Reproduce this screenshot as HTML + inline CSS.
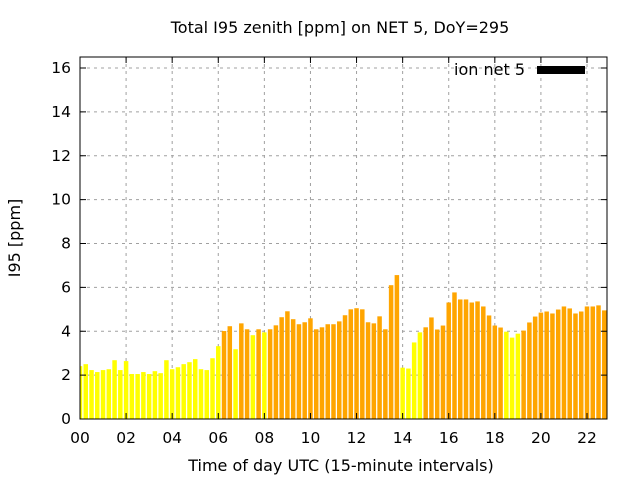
<!DOCTYPE html>
<html><head><meta charset="utf-8"><style>
body{margin:0;background:#fff;}
svg text{font-family:"DejaVu Sans","Liberation Sans",sans-serif;}
</style></head><body>
<svg id="chart" width="640" height="480" xmlns="http://www.w3.org/2000/svg">
<rect width="640" height="480" fill="#fff"/>
<text x="340" y="33" text-anchor="middle" font-size="16">Total I95 zenith [ppm] on NET 5, DoY=295</text>
<g id="grid"></g><g id="bars"></g><g id="axes"></g>
<text x="341" y="471" text-anchor="middle" font-size="16">Time of day UTC (15-minute intervals)</text>
<text transform="translate(20,238) rotate(-90)" text-anchor="middle" font-size="16">I95 [ppm]</text>
<g>
<text x="525" y="75" text-anchor="end" font-size="16">ion net 5</text>
<rect x="537" y="66" width="48" height="8" fill="#000"/>
</g>
</svg>
<script>
const values=[2.41,2.5,2.23,2.14,2.23,2.27,2.68,2.23,2.64,2.05,2.05,2.14,2.05,2.18,2.09,2.68,2.27,2.36,2.5,2.59,2.73,2.27,2.23,2.77,3.32,4.01,4.23,3.18,4.36,4.09,3.82,
4.09,3.95,4.09,4.27,4.64,4.91,4.55,4.32,4.41,4.59,4.09,4.18,4.32,4.32,4.45,4.73,5.0,5.05,5.0,4.41,4.36,4.68,4.09,6.1,6.56,2.34,2.3,3.49,3.95,4.18,
4.63,4.08,4.26,5.31,5.77,5.45,5.45,5.31,5.36,5.13,4.72,4.26,4.17,3.98,3.71,3.89,4.03,4.4,4.67,4.85,4.9,4.81,4.99,5.13,5.04,4.81,4.9,5.13,5.13,5.18,4.95];
const yTicks=[0,2,4,6,8,10,12,14,16];
const xTicks=["00","02","04","06","08","10","12","14","16","18","20","22"];
const threshold=4;
const NS="http://www.w3.org/2000/svg";
const L=80,R=607,T=57,B=419;
const xh=h=>L+h*(587-L)/22;
const y=v=>B-v*(B-68)/16;
function mk(tag,attrs,parent){const e=document.createElementNS(NS,tag);for(const k in attrs)e.setAttribute(k,attrs[k]);parent.appendChild(e);return e;}
const grid=document.getElementById('grid'),bars=document.getElementById('bars'),axes=document.getElementById('axes');
yTicks.forEach(v=>{
 if(v>0){const g=mk('line',{x1:L,x2:R,y1:y(v),y2:y(v),stroke:'#a0a0a0','stroke-dasharray':'3,4'},grid);
 
 }
 const t=mk('text',{x:L-9,y:y(v)+5,'text-anchor':'end','font-size':15.5},axes);t.textContent=v;
 
 
 mk('line',{x1:L,x2:L+6,y1:y(v),y2:y(v),stroke:'#000'},axes);
 mk('line',{x1:R,x2:R-6,y1:y(v),y2:y(v),stroke:'#000'},axes);
});
xTicks.forEach(s=>{
 const X=xh(parseInt(s,10));
 if(X>L){const g=mk('line',{x1:X,x2:X,y1:T,y2:B,stroke:'#a0a0a0','stroke-dasharray':'3,4'},grid);
 
 }
 const t=mk('text',{x:X,y:B+24,'text-anchor':'middle','font-size':15.5},axes);t.textContent=s;
 
 
 mk('line',{x1:X,x2:X,y1:B,y2:B-6,stroke:'#000'},axes);
 mk('line',{x1:X,x2:X,y1:T,y2:T+6,stroke:'#000'},axes);
});
const slot=(xh(1)-xh(0))/4,bw=slot*0.78;
values.forEach((v,i)=>{
 const cx=xh(i*0.25);
 const r=mk('rect',{x:Math.max(L,cx-bw/2),y:y(v),width:cx-bw/2<L?bw/2+(cx-L):bw,height:B-y(v),fill:v>=threshold?'#ffa500':'#ffff00'},bars);
 
 
});
const f=mk('rect',{x:L,y:T,width:R-L,height:B-T,fill:'none',stroke:'#000'},axes);


</script>
</body></html>
